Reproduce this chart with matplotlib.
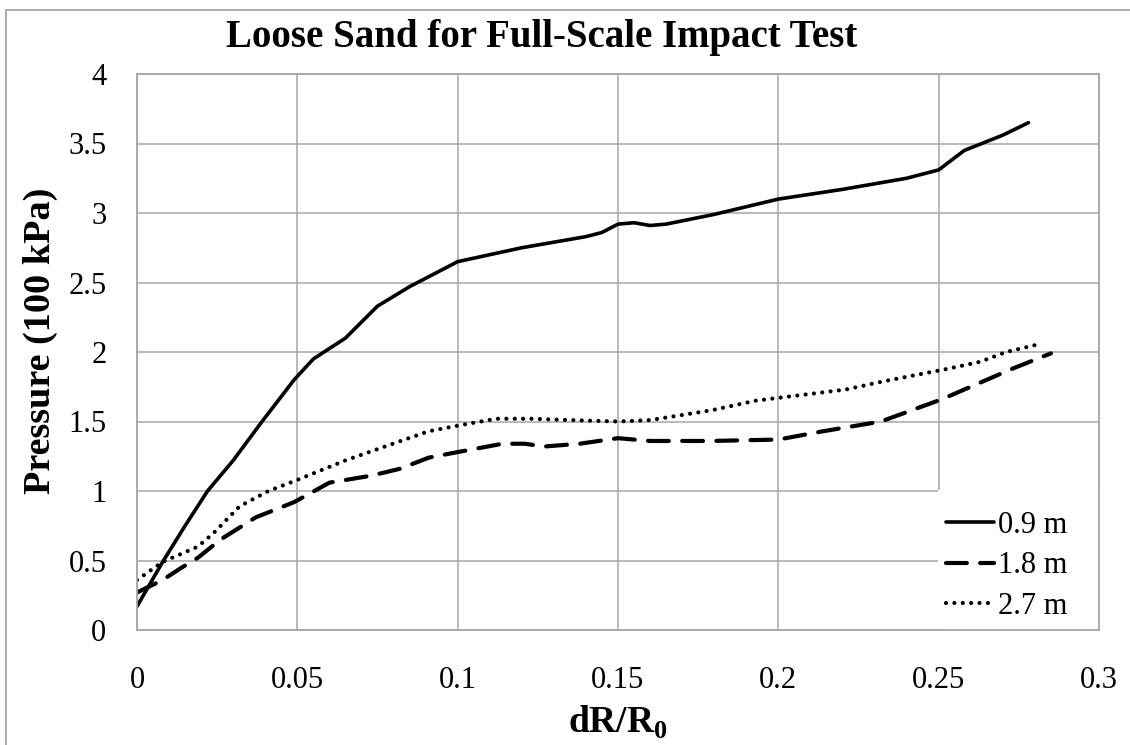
import matplotlib
matplotlib.use("Agg")
import matplotlib.pyplot as plt
from matplotlib.lines import Line2D
from matplotlib.patches import Rectangle

plt.rcParams['font.family'] = ['Liberation Serif', 'DejaVu Serif']
plt.rcParams['mathtext.fontset'] = 'custom'
plt.rcParams['mathtext.rm'] = 'Liberation Serif'
plt.rcParams['mathtext.bf'] = 'Liberation Serif:bold'

# data
x_09 = [0, 0.008, 0.015, 0.022, 0.03, 0.039, 0.049, 0.055, 0.065, 0.075, 0.085,
        0.1, 0.11, 0.12, 0.13, 0.14, 0.145, 0.15, 0.155, 0.16, 0.165, 0.18,
        0.2, 0.22, 0.24, 0.25, 0.258, 0.27, 0.278]
p_09 = [0.17, 0.49, 0.75, 1.0, 1.22, 1.5, 1.8, 1.95, 2.1, 2.33, 2.47,
        2.65, 2.7, 2.75, 2.79, 2.83, 2.86, 2.92, 2.93, 2.91, 2.92, 2.99,
        3.1, 3.17, 3.25, 3.31, 3.45, 3.56, 3.65]

x_18 = [0, 0.008, 0.014, 0.019, 0.026, 0.037, 0.049, 0.06, 0.073, 0.082, 0.091,
        0.1, 0.114, 0.121, 0.127, 0.138, 0.15, 0.16, 0.179, 0.2, 0.214, 0.232,
        0.251, 0.263, 0.273, 0.285]
p_18 = [0.27, 0.36, 0.45, 0.52, 0.65, 0.81, 0.92, 1.06, 1.11, 1.16, 1.24,
        1.28, 1.34, 1.34, 1.32, 1.34, 1.38, 1.36, 1.36, 1.37, 1.43, 1.50,
        1.66, 1.78, 1.88, 1.99]

x_27 = [0, 0.008, 0.019, 0.024, 0.032, 0.041, 0.05, 0.065, 0.081, 0.091, 0.1,
        0.112, 0.123, 0.135, 0.15, 0.16, 0.179, 0.193, 0.2, 0.221, 0.233,
        0.253, 0.263, 0.271, 0.282]
p_27 = [0.36, 0.49, 0.60, 0.70, 0.89, 1.0, 1.08, 1.22, 1.35, 1.43, 1.47,
        1.52, 1.52, 1.51, 1.50, 1.51, 1.58, 1.65, 1.67, 1.73, 1.79,
        1.88, 1.93, 2.0, 2.06]

labels = ['0.9 m', '1.8 m', '2.7 m']
x_ticks = [0, 0.05, 0.1, 0.15, 0.2, 0.25, 0.3]
x_tick_labels = ['0', '0.05', '0.1', '0.15', '0.2', '0.25', '0.3']
y_ticks = [0, 0.5, 1, 1.5, 2, 2.5, 3, 3.5, 4]
y_tick_labels = ['0', '0.5', '1', '1.5', '2', '2.5', '3', '3.5', '4']

W, H = 1130, 745
fig = plt.figure(figsize=(W / 100, H / 100), dpi=100)
ax = fig.add_axes([137 / W, 1 - 630 / H, 962 / W, 556 / H])

grey = '#a6a6a6'
ax.plot(x_09, p_09, color='black', lw=2.6, solid_capstyle='round', label=labels[0])
ax.plot(x_18, p_18, color='black', lw=3.0, linestyle=(0, (5.0, 3.2)),
        dash_capstyle='round', label=labels[1])
ax.plot(x_27, p_27, color='black', lw=3.0, linestyle=(0, (0.01, 2.0)),
        dash_capstyle='round', label=labels[2])

ax.set_xlim(0, 0.3)
ax.set_ylim(0, 4)
ax.set_xticks(x_ticks)
ax.set_xticklabels(x_tick_labels)
ax.set_yticks(y_ticks)
ax.set_yticklabels(y_tick_labels)
ax.tick_params(length=0, labelsize=22, colors='black')
ax.tick_params(axis='x', pad=26)
ax.tick_params(axis='y', pad=22)
ax.grid(True, color=grey, lw=1.1)
ax.set_axisbelow(True)
for sp in ax.spines.values():
    sp.set_color(grey)
    sp.set_linewidth(1.3)
    sp.set_zorder(6)

# white block behind the legend, as in the reference
ax.add_patch(Rectangle((0.833, 0.0), 0.167, 0.252, transform=ax.transAxes,
                       facecolor='white', edgecolor='none', zorder=4))

leg = ax.legend(loc='lower right', bbox_to_anchor=(0.977, 0.0), frameon=False,
                fontsize=22, handlelength=1.55, handletextpad=0.15,
                labelspacing=0.38, borderaxespad=0.0, borderpad=0.3)
leg.set_zorder(5)

ax.set_xlabel(r'dR/R$_\mathbf{0}$', fontsize=27, fontweight='bold')
ax.xaxis.set_label_coords(0.5, -0.132)

fig.text(40 / W, 1 - 341 / H, 'Pressure (100 kPa)', rotation=90, ha='center',
         va='center', fontsize=27.5, fontweight='bold')
fig.text(542 / W, 1 - 38 / H, 'Loose Sand for Full-Scale Impact Test',
         ha='center', va='center', fontsize=28, fontweight='bold')

# outer chart frame
fig.add_artist(Line2D([6 / W, 6 / W], [0, 1 - 10 / H], color=grey, lw=1.3,
                      transform=fig.transFigure))
fig.add_artist(Line2D([6 / W, 1], [1 - 10 / H, 1 - 10 / H], color=grey, lw=1.3,
                      transform=fig.transFigure))

fig.savefig('out.png', dpi=100, facecolor='white')
